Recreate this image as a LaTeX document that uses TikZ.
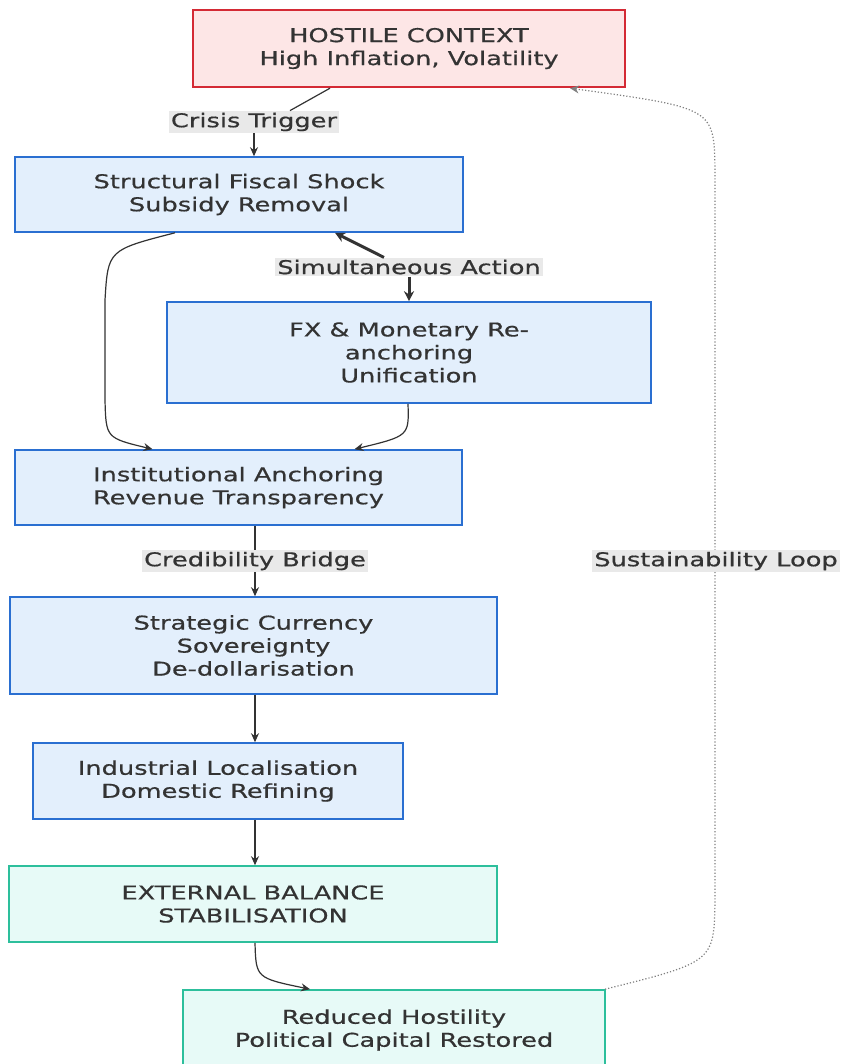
\documentclass[tikz,border=0pt]{standalone}
\usepackage{fontspec}
\setmainfont{DejaVu Sans}[FakeStretch=1.35,FakeBold=0.6]
\usepackage{xcolor}
\usetikzlibrary{arrows.meta,positioning,calc}

\definecolor{fillblue}{HTML}{E3EFFC}
\definecolor{lineblue}{HTML}{2A6FD1}
\definecolor{fillred}{HTML}{FDE6E6}
\definecolor{linered}{HTML}{D42A35}
\definecolor{fillteal}{HTML}{E7FAF7}
\definecolor{lineteal}{HTML}{2DBF9C}
\definecolor{inkgray}{HTML}{333333}
\definecolor{tagfill}{HTML}{E9E9E9}

\begin{document}
\begin{tikzpicture}[x=1pt,y=-1pt,
        % Styles
        stagebox/.style={
            rectangle,
            draw=lineblue,
            fill=fillblue,
            line width=1.6pt,
            align=center,
            text=inkgray,
            font=\fontsize{19}{23}\selectfont
        },
        hostilebox/.style={
            stagebox,
            draw=linered,
            fill=fillred,
            line width=2.4pt
        },
        outcomebox/.style={
            stagebox,
            draw=lineteal,
            fill=fillteal
        },
        edgetag/.style={
            fill=tagfill,
            text=inkgray,
            inner xsep=2pt,
            inner ysep=2pt,
            font=\fontsize{19}{20}\selectfont
        },
        arrow/.style={
            -{Stealth[length=9pt,width=8pt]},
            draw=inkgray,
            line width=1.2pt
        },
        thickarrow/.style={
            -{Stealth[length=10pt,width=10pt]},
            draw=inkgray,
            line width=3pt
        },
        looparrow/.style={
            -{Stealth[length=9pt,width=8pt]},
            draw=gray,
            dotted,
            line width=1.2pt
        }
    ]

    \useasboundingbox[fill=white] (0,0) rectangle (842,1064);

    % Stages
    \node[hostilebox, minimum width=432pt, minimum height=77pt] (hostile) at (409,48.5)
        {HOSTILE CONTEXT\\High Inflation, Volatility};
    \node[stagebox, minimum width=448pt, minimum height=75pt] (shock) at (239,194.5)
        {Structural Fiscal Shock\\Subsidy Removal};
    \node[stagebox, minimum width=484pt, minimum height=101pt] (fx) at (409,352.5)
        {FX \& Monetary Re-\\anchoring\\Unification};
    \node[stagebox, minimum width=447pt, minimum height=75pt] (inst) at (238.5,487.5)
        {Institutional Anchoring\\Revenue Transparency};
    \node[stagebox, minimum width=487pt, minimum height=97pt] (currency) at (253.5,645.5)
        {Strategic Currency\\Sovereignty\\De-dollarisation};
    \node[stagebox, minimum width=370pt, minimum height=76pt] (industry) at (218,781)
        {Industrial Localisation\\Domestic Refining};
    \node[outcomebox, minimum width=488pt, minimum height=76pt] (external) at (253,904)
        {EXTERNAL BALANCE\\STABILISATION};
    \node[outcomebox, minimum width=422pt, minimum height=80pt] (reduced) at (394,1030)
        {Reduced Hostility\\Political Capital Restored};

    % Edge labels
    \node[edgetag] (crisis) at (254,122) {Crisis Trigger};
    \node[edgetag] (simul) at (409,267) {Simultaneous Action};
    \node[edgetag] (cred) at (255,561) {Credibility Bridge};

    % Crisis trigger
    \draw[arrow, -] ([xshift=-79pt]hostile.south) -- ([xshift=36pt]crisis.north);
    \draw[arrow] (crisis.south) -- (crisis.south |- shock.north);

    % Simultaneous action (both ways)
    \draw[thickarrow] ([xshift=-25pt]simul.north) -- ([xshift=96pt]shock.south);
    \draw[thickarrow] (simul.south) -- (simul.south |- fx.north);

    % Into institutional anchoring
    \draw[arrow] ([xshift=-64pt]shock.south) .. controls (108,250) .. (105,300)
        -- (105,400) .. controls (106,438) .. ([xshift=-86pt]inst.north);
    \draw[arrow] ([xshift=-1pt]fx.south) .. controls (409,436) .. ([xshift=116pt]inst.north);

    % Credibility bridge
    \draw[arrow, -] (inst.south -| cred) -- (cred.north);
    \draw[arrow] (cred.south) -- (cred.south |- currency.north);

    % Down the chain
    \draw[arrow] (currency.south -| cred) -- (industry.north -| cred);
    \draw[arrow] (industry.south -| cred) -- (external.north -| cred);
    \draw[arrow] ([xshift=2pt]external.south) .. controls (256,978) .. ([xshift=-84pt]reduced.north);

    % Sustainability loop
    \draw[looparrow] ([xshift=211pt]reduced.north) .. controls (714,962) .. (715,900)
        -- (715,170) .. controls (714,108) .. ([xshift=161pt]hostile.south);
    \node[edgetag] (loop) at (716,561) {Sustainability Loop};

\end{tikzpicture}
\end{document}
